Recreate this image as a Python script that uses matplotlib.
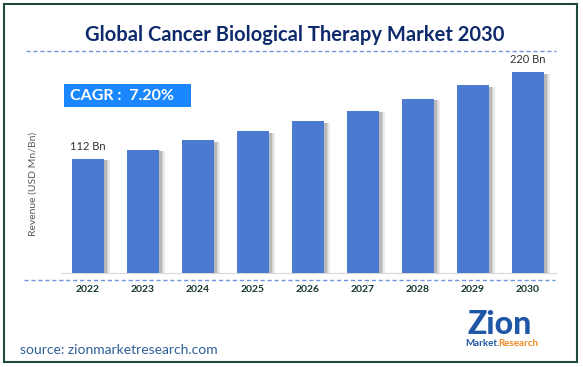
# plot.py
# recreate the Zion cancer biological therapy bar chart

import matplotlib
matplotlib.use("Agg")
import matplotlib.pyplot as plt
import matplotlib.patheffects as pe
from matplotlib.lines import Line2D
from matplotlib.patches import Rectangle

# data
years = ["2022", "2023", "2024", "2025", "2026", "2027", "2028", "2029", "2030"]
revenue = [112, 123.3, 135.0, 146.2, 158.7, 172.1, 187.1, 203.8, 220]
first_label = "112 Bn"
last_label = "220 Bn"
cagr_text = "CAGR :  7.20%"
title = "Global Cancer Biological Therapy Market 2030"
source = "source: zionmarketresearch.com"

# the value axis does not start at zero in the original
Y_FLOOR = -31
Y_TOP = 235.5

W, H = 583, 367
fig = plt.figure(figsize=(W / 100, H / 100), dpi=100)
plt.rcParams["font.family"] = ["Lato", "DejaVu Sans"]


def fx(px):
    return px / W


def fy(py):
    return 1 - py / H


# outer border
fig.patches.append(Rectangle((fx(4), fy(362)), fx(573), (358) / H,
                             transform=fig.transFigure, fill=False,
                             edgecolor="#1d4a3a", linewidth=1.5))

# title + dashed rules
fig.text(fx(295), fy(35), title, ha="center", va="center",
         fontsize=14.5, fontweight="bold", color="#0f2a6b")
for y, x0, x1 in [(51, 26, 556), (280, 24, 555)]:
    fig.add_artist(Line2D([fx(x0), fx(x1)], [fy(y), fy(y)],
                          transform=fig.transFigure, color="#6d95dc",
                          linestyle=(0, (3, 2)), linewidth=1))

# bars
ax = fig.add_axes([fx(60.5), fy(273), fx(495), (273 - 60) / H])
xs = range(len(years))
heights = [v - Y_FLOOR for v in revenue]
bars = ax.bar(xs, heights, bottom=Y_FLOOR, width=0.58, color="#4b7bd0",
              zorder=3)
# soft shadow on the right side, built from a few faint layers
shadow = [pe.SimplePatchShadow(offset=(o, -1), shadow_rgbFace="#555555",
                               alpha=a)
          for o, a in [(4, 0.12), (3, 0.15), (2, 0.2)]]
for b in bars:
    b.set_path_effects(shadow + [pe.Normal()])

ax.set_xlim(-0.5, len(years) - 0.5)
ax.set_ylim(Y_FLOOR, Y_TOP)
ax.set_xticks(list(xs))
ax.set_xticklabels(years, fontsize=7.5, fontweight="bold", color="#163828")
ax.tick_params(axis="x", length=0, pad=9)
ax.set_yticks([])
for s in ["top", "right", "left"]:
    ax.spines[s].set_visible(False)
ax.spines["bottom"].set_color("#d9d9d9")
ax.patch.set_alpha(0)

ax.annotate(first_label, (0, revenue[0]), xytext=(0, 5),
            textcoords="offset points", ha="center", va="bottom",
            fontsize=8, color="#333333")
ax.annotate(last_label, (len(years) - 1, revenue[-1]), xytext=(0, 5),
            textcoords="offset points", ha="center", va="bottom",
            fontsize=8, color="#333333")

# y label
fig.text(fx(33), fy(184), "Revenue (USD Mn/Bn)", rotation=90,
         ha="center", va="center", fontsize=7.5, color="#595959")

# CAGR box
fig.patches.append(Rectangle((fx(64), fy(107)), fx(127), 23 / H,
                             transform=fig.transFigure,
                             facecolor="#1a87ff", edgecolor="none"))
fig.text(fx(70), fy(95.5), cagr_text, ha="left", va="center",
         fontsize=11.5, fontweight="bold", color="white")

# source
fig.text(fx(20), fy(350), source, ha="left", va="center",
         fontsize=10, color="#2f5f97")

# logo (rough)
fig.text(fx(500), fy(324), "Zion", ha="center", va="center",
         fontsize=23, fontweight="black", color="#1f56a6")
fig.text(fx(482), fy(343), "Market.", ha="center", va="center",
         fontsize=7, fontweight="bold", color="#1f56a6")
fig.text(fx(518), fy(343), "Research", ha="center", va="center",
         fontsize=7, fontweight="bold", color="#f08a1c")

fig.savefig("out.png", dpi=100)
